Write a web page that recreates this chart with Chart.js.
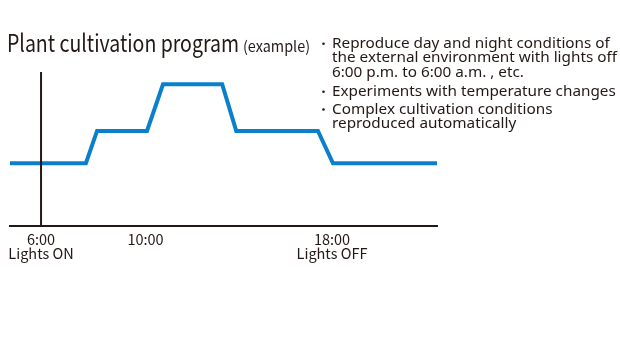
<!DOCTYPE html>
<html><head><meta charset="utf-8">
<script src="https://cdn.jsdelivr.net/npm/chart.js@4/dist/chart.umd.min.js"></script>
<style>
html,body{margin:0;padding:0;background:#fff;}
#wrap{position:relative;width:620px;height:347px;}
canvas{display:block;}
</style></head><body>
<div id="wrap"><canvas id="c" width="620" height="347" style="width:620px;height:347px"></canvas></div>
<script>
// Time of day (hours) at each corner of the program line
const programHours = [4.72, 7.85, 8.31, 10.37, 11.03, 13.47, 14.05, 17.42, 18.04, 22.33];
// Relative temperature levels at each corner
const programLevels = [20, 20, 25, 25, 32.2, 32.2, 25, 25, 20, 20];
// Vertical "lights on" marker
const markerHour = 6;
const levelMin = 10.3, levelMax = 34.1;
// Tick positions and their labels
const tickHours = [6, 10.31, 18];
const tickLabels = [["6:00", "Lights ON"], ["10:00"], ["18:00", "Lights OFF"]];
const titleMain = "Plant cultivation program";
const titleSub = "(example)";
const notes = [
  ["Reproduce day and night conditions of", "the external environment with lights off", "6:00 p.m. to 6:00 a.m. , etc."],
  ["Experiments with temperature changes"],
  ["Complex cultivation conditions", "reproduced automatically"]
];

const FONT = '"Noto Sans CJK JP", "Noto Sans", sans-serif';
const NOTE_FONT = '"Noto Sans", "Noto Sans CJK JP", sans-serif';
const INK = '#231815';

function scaledText(ctx, text, x, y, sx) {
  ctx.save();
  ctx.translate(x, y);
  ctx.scale(sx, 1);
  ctx.fillText(text, 0, 0);
  ctx.restore();
}

const textPlugin = {
  id: 'texts',
  afterDraw(chart) {
    const ctx = chart.ctx;
    ctx.save();
    ctx.fillStyle = INK;
    ctx.textBaseline = 'alphabetic';
    ctx.textAlign = 'left';
    ctx.font = '24px ' + FONT;
    scaledText(ctx, titleMain, 7, 51.5, 232 / ctx.measureText(titleMain).width);
    ctx.font = '15px ' + FONT;
    scaledText(ctx, titleSub, 243, 51.5, 67 / ctx.measureText(titleSub).width);
    ctx.font = '14.5px ' + NOTE_FONT;
    const sx = 285 / ctx.measureText(notes[0][1]).width;
    const groupTops = [48.3, 96.3, 114];
    notes.forEach((group, gi) => {
      let y = groupTops[gi];
      group.forEach((line, li) => {
        if (li === 0) {
          ctx.beginPath();
          ctx.arc(323.5, y - 4.5, 1.3, 0, Math.PI * 2);
          ctx.fill();
        }
        scaledText(ctx, line, 332, y, sx);
        y += 14.1;
      });
    });
    ctx.restore();
  }
};

new Chart(document.getElementById('c'), {
  type: 'line',
  data: {
    datasets: [
      {
        data: [{x: markerHour, y: levelMin}, {x: markerHour, y: levelMax}],
        borderColor: INK, borderWidth: 2, pointRadius: 0, order: 0, clip: false
      },
      {
        data: programHours.map((h, i) => ({x: h, y: programLevels[i]})),
        borderColor: '#0a80cc', borderWidth: 4, pointRadius: 0, order: 1,
        borderJoinStyle: 'miter', clip: false
      }
    ]
  },
  options: {
    responsive: false,
    animation: false,
    devicePixelRatio: 1,
    layout: {padding: {left: 10, right: 183, top: 72, bottom: 61}},
    plugins: {legend: {display: false}, tooltip: {enabled: false}, title: {display: false}},
    scales: {
      x: {
        type: 'linear',
        min: programHours[0], max: programHours[programHours.length - 1],
        grid: {display: false, drawTicks: false},
        border: {display: true, color: INK, width: 2},
        afterBuildTicks: (s) => { s.ticks = tickHours.map(v => ({value: v})); },
        afterFit: (s) => { s.height = 60; },
        ticks: {
          autoSkip: false, maxRotation: 0, padding: 6,
          color: INK,
          font: {family: FONT, size: 14.5, lineHeight: 0.98},
          callback: (v, i) => tickLabels[i]
        }
      },
      y: {display: false, min: levelMin, max: levelMax}
    }
  },
  plugins: [textPlugin]
});
</script>
</body></html>
